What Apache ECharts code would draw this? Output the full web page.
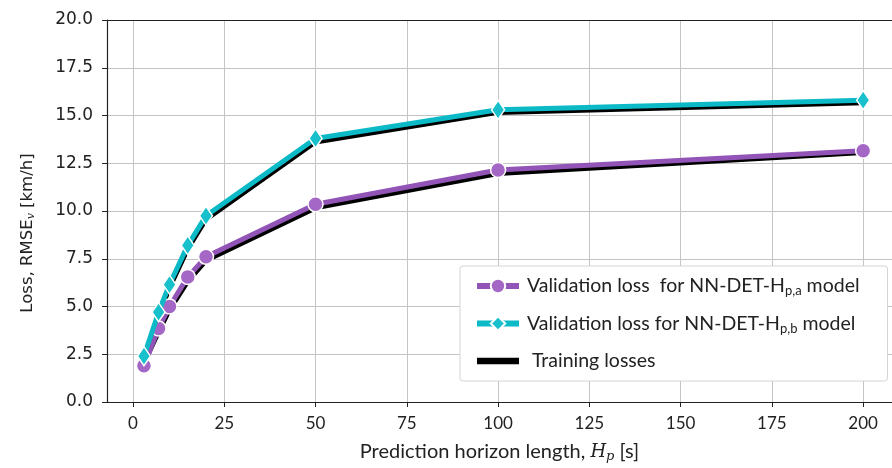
<!DOCTYPE html>
<html>
<head>
<meta charset="utf-8">
<script src="https://cdn.jsdelivr.net/npm/echarts@6/dist/echarts.min.js"></script>
<style>
  html, body { margin: 0; padding: 0; background: #fff; }
  #main { width: 892px; height: 468px; }
</style>
</head>
<body>
<div id="main"></div>
<script>
var chart = echarts.init(document.getElementById("main"));

// horizonte de prediccion (s)
var horizons = [3, 7, 10, 15, 20, 50, 100, 200];
// perdidas de validacion y de entrenamiento
var valA = [1.9, 3.85, 5.0, 6.55, 7.6, 10.35, 12.15, 13.15];
var valB = [2.4, 4.7, 6.15, 8.2, 9.75, 13.8, 15.3, 15.8];
var trainA = [2.0, 3.65, 4.8, 6.3, 7.4, 10.15, 11.95, 13.05];
var trainB = [2.3, 4.5, 5.95, 8.0, 9.55, 13.6, 15.15, 15.65];
var xTicks = [0, 25, 50, 75, 100, 125, 150, 175, 200];
var yTicks = [0, 2.5, 5, 7.5, 10, 12.5, 15, 17.5, 20];

function pares(ys) {
  return horizons.map(function (x, i) { return [x, ys[i]]; });
}

var nombreA = "valA";
var nombreB = "valB";
var nombreT = "Training losses";

var option = {
  backgroundColor: "#fff",
  animation: false,
  grid: {
    left: 107,
    right: 0,
    top: 20,
    bottom: 65
  },
  xAxis: [
    {
      type: "value",
      min: -7.12,
      max: 207.9,
      name: "{t|Prediction horizon length, }{i|H}{s|p}{t| [s]}",
      nameLocation: "middle",
      nameGap: 39,
      nameTextStyle: {
        rich: {
          t: { fontFamily: "Lato", fontSize: 20, color: "#222" },
          i: { fontFamily: "DejaVu Serif", fontStyle: "italic", fontSize: 18, color: "#222" },
          s: { fontFamily: "DejaVu Serif", fontStyle: "italic", fontSize: 13, color: "#222", verticalAlign: "bottom", padding: [9, 0, 0, 0] }
        }
      },
      axisLine: { show: true, onZero: false, lineStyle: { color: "#222", width: 1.2 } },
      axisTick: { show: true, length: 5, lineStyle: { color: "#222" }, customValues: xTicks },
      axisLabel: { fontFamily: "Lato", fontSize: 17, color: "#222", margin: 13, customValues: xTicks },
      splitLine: { show: true, lineStyle: { color: "#c4c4c4", width: 1 } }
    },
    {
      // borde superior del marco
      type: "value",
      position: "top",
      min: -7.12,
      max: 207.9,
      axisLine: { show: true, onZero: false, lineStyle: { color: "#222", width: 1.2 } },
      axisTick: { show: false },
      axisLabel: { show: false },
      splitLine: { show: false }
    }
  ],
  yAxis: {
    type: "value",
    min: 0,
    max: 20,
    interval: 2.5,
    name: "{t|Loss, RMSE}{s|v}{t| [km/h]}",
    nameLocation: "middle",
    nameRotate: 90,
    nameGap: 70,
    nameTextStyle: {
      align: "center",
      padding: [0, 44, 0, 0],
      rich: {
        t: { fontFamily: "DejaVu Sans", fontSize: 16.5, color: "#222" },
        s: { fontFamily: "DejaVu Serif", fontStyle: "italic", fontSize: 11, color: "#222", verticalAlign: "bottom", padding: [7, 0, 0, 0] }
      }
    },
    axisLine: { show: true, onZero: false, lineStyle: { color: "#222", width: 1.2 } },
    axisTick: { show: true, length: 5, lineStyle: { color: "#222" } },
    axisLabel: {
      fontFamily: "DejaVu Sans",
      fontSize: 17,
      color: "#222",
      margin: 14,
      formatter: function (v) { return yTicks.indexOf(v) >= 0 ? v.toFixed(1) : ""; }
    },
    splitLine: { show: true, lineStyle: { color: "#c4c4c4", width: 1 } }
  },
  legend: {
    orient: "vertical",
    left: 460,
    top: 266,
    data: [
      { name: nombreA },
      { name: nombreB },
      { name: nombreT, icon: "path://M0,0 L40,0 L40,6 L0,6 Z" }
    ],
    itemWidth: 42,
    itemHeight: 18,
    itemGap: 16,
    padding: [10, 28, 10, 14],
    backgroundColor: "#fff",
    borderColor: "#d4d4d4",
    borderWidth: 1,
    borderRadius: 3,
    lineStyle: { width: 6 },
    formatter: function (name) {
      if (name === nombreA) return "{t|Validation loss  for NN-DET-H}{s|p,a}{t| model}";
      if (name === nombreB) return "{t|Validation loss for NN-DET-H}{s|p,b}{t| model}";
      return "{t| Training losses}";
    },
    textStyle: {
      padding: [0, 0, 0, 3],
      rich: {
        t: { fontFamily: "Lato", fontSize: 19.5, color: "#222", height: 23 },
        s: { fontFamily: "Lato", fontSize: 13, color: "#222", verticalAlign: "bottom", padding: [10, 0, 0, 0] }
      }
    }
  },
  series: [
    {
      name: nombreT,
      type: "line",
      data: pares(trainA),
      symbol: "none",
      z: 1,
      lineStyle: { color: "#000", width: 4.5 },
      itemStyle: { color: "#000" }
    },
    {
      name: nombreT,
      type: "line",
      data: pares(trainB),
      symbol: "none",
      z: 1,
      lineStyle: { color: "#000", width: 4.5 },
      itemStyle: { color: "#000" }
    },
    {
      name: nombreA,
      type: "line",
      data: pares(valA),
      symbol: "circle",
      symbolSize: 15,
      z: 3,
      lineStyle: { color: "#9354b8", width: 5 },
      itemStyle: { color: "#a467c6", borderColor: "#fff", borderWidth: 1.5 }
    },
    {
      name: nombreB,
      type: "line",
      data: pares(valB),
      symbol: "diamond",
      symbolSize: [13, 19],
      z: 4,
      lineStyle: { color: "#0bbac6", width: 5 },
      itemStyle: { color: "#17c0cb", borderColor: "#fff", borderWidth: 1.5 }
    }
  ]
};

chart.setOption(option);
</script>
</body>
</html>
